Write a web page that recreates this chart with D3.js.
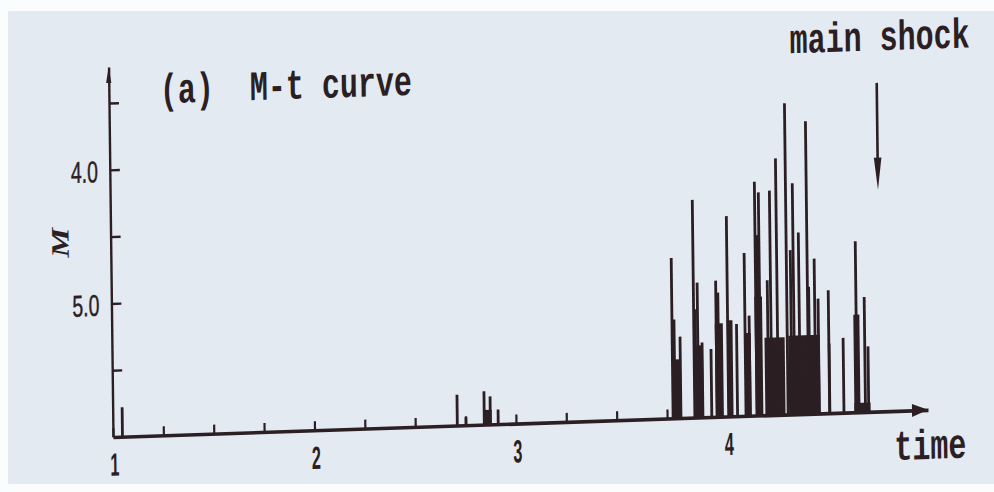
<!DOCTYPE html>
<html>
<head>
<meta charset="utf-8">
<script src="https://cdn.jsdelivr.net/npm/d3@7"></script>
<style>
  html, body { margin: 0; padding: 0; background: #fff; }
  svg { display: block; }
</style>
</head>
<body>
<svg id="chart" width="994" height="492"></svg>
<script>
// Single shocks: occurrence time (time-axis units) and magnitude M
const shockTime = [1.047, 2.709, 2.752, 2.843, 2.873, 2.912,
  3.780, 3.790, 3.819, 3.888, 3.895, 3.907, 3.928, 3.972, 3.999, 4.009,
  4.056, 4.100, 4.142, 4.163, 4.197, 4.216, 4.255, 4.271, 4.303, 4.351,
  4.371, 4.385, 4.412, 4.454, 4.460, 4.489, 4.506, 4.557, 4.628, 4.694,
  4.735, 4.751];
const shockMag = [5.78, 5.77, 5.94, 5.75, 5.79, 5.89,
  4.80, 5.26, 5.39, 4.37, 5.19, 4.99, 5.44, 5.49, 4.98, 5.07,
  4.50, 5.31, 4.78, 5.25, 4.25, 4.33, 4.99, 4.32, 4.08, 3.67,
  4.77, 4.27, 4.64, 3.81, 5.05, 4.84, 5.14, 5.08, 5.44, 4.72,
  5.14, 5.51];

// Swarms of small shocks that merge into solid bands: start, end, level
const burstStart = [2.838, 3.783, 3.885, 3.992, 4.052, 4.140, 4.190, 4.199, 4.238, 4.356, 4.552, 4.680, 4.680];
const burstEnd   = [2.880, 3.822, 3.932, 4.032, 4.080, 4.170, 4.228, 4.214, 4.338, 4.512, 4.565, 4.710, 4.760];
const burstMag   = [5.89, 5.56, 5.46, 5.30, 5.28, 5.38, 5.11, 4.65, 5.42, 5.41, 5.48, 5.27, 5.93];

// Axis ticks
const timeMinorTicks = [1.25, 1.5, 1.75, 2.25, 2.5, 2.75, 3.25, 3.5, 3.75, 4.25, 4.5, 4.75];
const timeLabels = [1, 2, 3, 4];
const magTicks = [3.5, 4.0, 4.5, 5.0, 5.5];
const magLabels = [4.0, 5.0];

// Main shock marker
const mainShockTime = 4.81;
const mainShockArrow = [3.54, 4.34];

const W = 994, H = 492;
const ink = "#2b1f23";
const typeFont = "'Liberation Mono', 'DejaVu Sans Mono', monospace";
const numFont = "'Liberation Sans Narrow', 'Liberation Sans', Arial, sans-serif";

const svg = d3.select("#chart");
svg.append("rect").attr("width", W).attr("height", H).attr("fill", "#fbfcfe");
svg.append("rect").attr("x", 8).attr("y", 11).attr("width", W - 8).attr("height", 473)
  .attr("fill", "#e4eaf2");

const x = d3.scaleLinear().domain([1, 5.045]).range([0, 815]);
const y = d3.scaleLinear().domain([6, 3.23]).range([0, -370]);

// plotting frame: origin at (time 1, baseline); the printed sheet sits slightly tilted
const g = svg.append("g").attr("transform", "matrix(1,-0.0333,0.012,1,113,437)");

// swarm bands
g.append("g").selectAll("rect")
  .data(burstStart.map((s, i) => ({ s, e: burstEnd[i], m: burstMag[i] })))
  .join("rect")
  .attr("x", d => x(d.s))
  .attr("width", d => x(d.e) - x(d.s))
  .attr("y", d => y(d.m))
  .attr("height", d => y(6) - y(d.m))
  .attr("fill", ink);

// individual shocks
g.append("g").selectAll("line")
  .data(shockTime.map((t, i) => ({ t, m: shockMag[i] })))
  .join("line")
  .attr("x1", d => x(d.t)).attr("x2", d => x(d.t))
  .attr("y1", y(6)).attr("y2", d => y(d.m))
  .attr("stroke", ink).attr("stroke-width", 2.8);

// time axis
const xAxis = d3.axisBottom(x)
  .tickValues(timeMinorTicks.concat(timeLabels))
  .tickSizeInner(-9).tickSizeOuter(0).tickPadding(16)
  .tickFormat(d => timeLabels.includes(d) ? d3.format("d")(d) : "");
const gx = g.append("g").attr("color", ink).call(xAxis);
gx.select(".domain").attr("stroke-width", 3.6);
gx.selectAll(".tick line").attr("stroke-width", 2.2);
gx.selectAll(".tick text")
  .attr("font-family", numFont).attr("font-size", 32).attr("font-weight", "bold")
  .attr("dx", d => d === 4 ? 11 : 1)
  .attr("textLength", 9).attr("lengthAdjust", "spacingAndGlyphs");

// magnitude axis
const yAxis = d3.axisLeft(y)
  .tickValues(magTicks)
  .tickSizeInner(-10).tickSizeOuter(0).tickPadding(12)
  .tickFormat(d => magLabels.includes(d) ? d3.format(".1f")(d) : "");
const gy = g.append("g").attr("color", ink).call(yAxis);
gy.select(".domain").attr("stroke-width", 2.4);
gy.selectAll(".tick line").attr("stroke-width", 2.4);
gy.selectAll(".tick text")
  .attr("font-family", numFont).attr("font-size", 30).attr("dy", "0.38em")
  .attr("stroke", ink).attr("stroke-width", 0.5)
  .attr("textLength", 27).attr("lengthAdjust", "spacingAndGlyphs");

// arrow heads on both axes
const xEnd = x.range()[1];
g.append("path")
  .attr("d", `M${xEnd},0 L${xEnd - 16},-6.5 L${xEnd - 16},6.5 Z`)
  .attr("fill", ink);
const yEnd = y.range()[1];
g.append("path")
  .attr("d", `M0,${yEnd} L-2.6,${yEnd + 16} L2.6,${yEnd + 16} Z`)
  .attr("fill", ink);

// main shock arrow
const mx = x(mainShockTime);
const a0 = y(mainShockArrow[0]), a1 = y(mainShockArrow[1]);
g.append("line").attr("x1", mx).attr("x2", mx).attr("y1", a0).attr("y2", a1 - 20)
  .attr("stroke", ink).attr("stroke-width", 2.6);
g.append("path")
  .attr("d", `M${mx},${a1} L${mx - 3.8},${a1 - 32} L${mx + 3.8},${a1 - 32} Z`)
  .attr("fill", ink);

// typewriter-style texts: narrow, tall letters
function typed(text, tx, ty) {
  return g.append("text")
    .attr("transform", `translate(${tx},${ty}) scale(1,1.4)`)
    .attr("font-family", typeFont).attr("font-weight", "bold").attr("font-size", 30)
    .attr("fill", ink).style("white-space", "pre")
    .text(text);
}
typed("(a)  M-t curve", 51, -332);
typed("main shock", 681, -361);
typed("time", 781, 49);

g.append("text")
  .attr("transform", "translate(-42,-196) rotate(-90)")
  .attr("text-anchor", "middle")
  .attr("font-family", "'Liberation Serif', 'DejaVu Serif', serif")
  .attr("font-style", "italic").attr("font-weight", "bold").attr("font-size", 25)
  .attr("textLength", 30).attr("lengthAdjust", "spacingAndGlyphs")
  .attr("fill", ink)
  .text("M");
</script>
</body>
</html>
